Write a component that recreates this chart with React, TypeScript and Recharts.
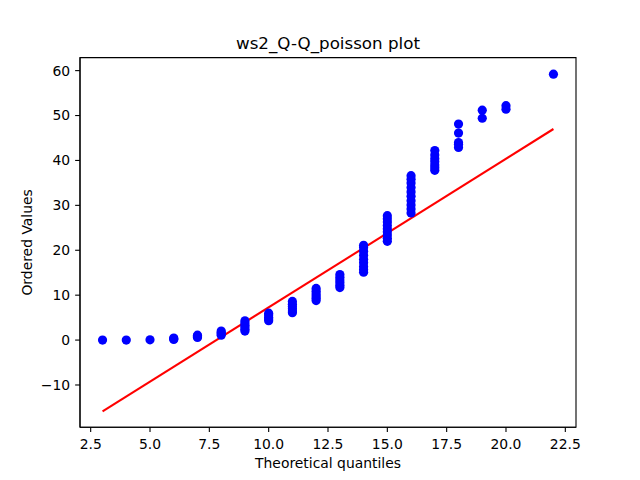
import { ComposedChart, Scatter, Line, XAxis, YAxis, ReferenceArea } from 'recharts';

// theoretical poisson quantiles (x) and the sorted sample values (y)
const theoreticalQuantiles = [
  3, 4, 5,
  6, 6, 6,
  7, 7, 7,
  8, 8, 8, 8,
  9, 9, 9, 9, 9, 9,
  10, 10, 10, 10, 10,
  11, 11, 11, 11, 11, 11,
  12, 12, 12, 12, 12, 12,
  13, 13, 13, 13, 13, 13,
  14, 14, 14, 14, 14, 14, 14, 14, 14,
  15, 15, 15, 15, 15, 15, 15, 15, 15,
  16, 16, 16, 16, 16, 16, 16, 16, 16, 16,
  17, 17, 17, 17, 17, 17, 17,
  18, 18, 18, 18, 18,
  19, 19,
  20, 20,
  22,
];
const orderedValues = [
  0, 0, 0.05,
  0.15, 0.3, 0.45,
  0.6, 0.8, 1.1,
  1.1, 1.4, 1.7, 2.0,
  2.0, 2.4, 2.9, 3.3, 3.8, 4.3,
  4.3, 4.7, 5.1, 5.6, 6.0,
  6.1, 6.5, 7.0, 7.5, 8.0, 8.6,
  8.8, 9.3, 9.8, 10.3, 10.9, 11.5,
  11.7, 12.2, 12.8, 13.4, 14.0, 14.6,
  15.1, 15.7, 16.4, 17.2, 18.0, 18.9, 19.8, 20.6, 21.1,
  22.0, 22.7, 23.4, 24.1, 24.8, 25.5, 26.3, 27.0, 27.7,
  28.3, 29.2, 30.1, 31.0, 32.0, 33.0, 34.0, 35.0, 35.8, 36.6,
  37.8, 38.4, 39.0, 39.7, 40.4, 41.2, 42.2,
  42.9, 43.6, 44.0, 46.1, 48.1,
  49.4, 51.2,
  51.4, 52.2,
  59.2,
];

// least-squares fit line end points
const fitX = [3, 22];
const fitY = [-15.9, 47.0];

const xTicks = [2.5, 5, 7.5, 10, 12.5, 15, 17.5, 20, 22.5];
const yTicks = [-10, 0, 10, 20, 30, 40, 50, 60];

const points = theoreticalQuantiles.map((x, i) => ({ x, y: orderedValues[i] }));
const fitLine = fitX.map((x, i) => ({ x, y: fitY[i] }));

const FONT = '"DejaVu Sans", sans-serif';
const tickStyle = { fill: '#000', fontSize: 13.9, fontFamily: FONT };
const xDomain: [number, number] = [2.05, 22.95];
const yDomain: [number, number] = [-19.4, 62.9];

export default function App() {
  return (
    <div style={{ position: 'absolute', left: 0, top: 0, width: 640, height: 480, background: '#fff' }}>
      <ComposedChart width={640} height={480} margin={{ top: 57.6, right: 64, bottom: 22.8, left: 30 }}>
        <XAxis
          dataKey="x"
          type="number"
          domain={xDomain}
          ticks={xTicks}
          allowDataOverflow
          height={30}
          tick={tickStyle}
          tickFormatter={v => Number(v).toFixed(1)}
          tickSize={4.86}
          tickMargin={7}
          axisLine={{ stroke: '#000', strokeWidth: 1.1 }}
          tickLine={{ stroke: '#000', strokeWidth: 1.1 }}
        />
        <YAxis
          dataKey="y"
          type="number"
          domain={yDomain}
          ticks={yTicks}
          allowDataOverflow
          width={50}
          tick={tickStyle}
          tickFormatter={v => (v < 0 ? `\u2212${-v}` : String(v))}
          tickSize={4.86}
          tickMargin={5}
          axisLine={{ stroke: '#000', strokeWidth: 1.1 }}
          tickLine={{ stroke: '#000', strokeWidth: 1.1 }}
        />
        {/* axes frame */}
        <ReferenceArea
          x1={xDomain[0]}
          x2={xDomain[1]}
          y1={yDomain[0]}
          y2={yDomain[1]}
          fill="none"
          fillOpacity={0}
          stroke="#000"
          strokeWidth={1.1}
          strokeOpacity={1}
        />
        <Scatter
          data={points}
          isAnimationActive={false}
          shape={(p: any) => <circle cx={p.cx} cy={p.cy} r={4.6} fill="#0000ff" />}
        />
        <Line
          data={fitLine}
          dataKey="y"
          type="linear"
          stroke="#ff0000"
          strokeWidth={2.08}
          dot={false}
          activeDot={false}
          isAnimationActive={false}
        />
        <text x={328} y={49.3} textAnchor="middle" fontFamily={FONT} fontSize={16.7} fill="#000">
          ws2_Q-Q_poisson plot
        </text>
        <text x={328} y={468} textAnchor="middle" fontFamily={FONT} fontSize={13.9} fill="#000">
          Theoretical quantiles
        </text>
        <text
          x={32}
          y={242.4}
          textAnchor="middle"
          fontFamily={FONT}
          fontSize={13.9}
          fill="#000"
          transform="rotate(-90 32 242.4)"
        >
          Ordered Values
        </text>
      </ComposedChart>
    </div>
  );
}
